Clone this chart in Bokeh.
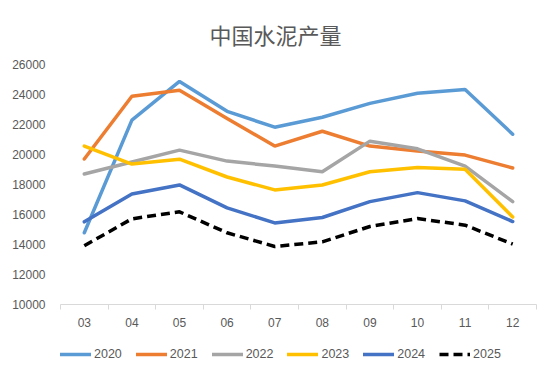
from bokeh.plotting import figure
from bokeh.layouts import column
from bokeh.models import FixedTicker, Legend, LegendItem, Range1d, Title
from bokeh.embed import file_html
from bokeh.resources import INLINE

months = ["03", "04", "05", "06", "07", "08", "09", "10", "11", "12"]
y2020 = [14780, 22290, 24870, 22880, 21820, 22480, 23410, 24080, 24340, 21350]
y2021 = [19700, 23880, 24280, 22400, 20560, 21550, 20560, 20230, 19960, 19100]
y2022 = [18700, 19500, 20290, 19560, 19230, 18850, 20890, 20380, 19230, 16860]
y2023 = [20560, 19360, 19690, 18500, 17640, 17970, 18850, 19140, 19010, 15840]
y2024 = [15510, 17370, 17970, 16440, 15440, 15800, 16860, 17460, 16910, 15530]
y2025 = [13920, 15710, 16180, 14780, 13870, 14180, 15200, 15730, 15290, 14030]
yticks = [10000, 12000, 14000, 16000, 18000, 20000, 22000, 24000, 26000]

series = [
    ("2020", y2020, "#5B9BD5", "solid"),
    ("2021", y2021, "#ED7D31", "solid"),
    ("2022", y2022, "#A5A5A5", "solid"),
    ("2023", y2023, "#FFC000", "solid"),
    ("2024", y2024, "#4472C4", "solid"),
    ("2025", y2025, "#000000", "9 5"),
]

xs = list(range(1, len(months) + 1))

p = figure(width=550, height=340, output_backend="svg", toolbar_location=None,
           x_range=Range1d(0.5, len(months) + 0.5), y_range=Range1d(10000, 26000),
           min_border_left=60, min_border_right=14, min_border_top=63, min_border_bottom=36)
p.outline_line_color = None
p.grid.grid_line_color = None

title = Title(text="中国水泥产量", align="left", offset=149, standoff=30,
              text_font="Noto Sans CJK SC", text_font_size="22px",
              text_font_style="normal", text_color="#595959")
p.add_layout(title, "above")

for name, ys, color, dash in series:
    p.line(xs, ys, line_color=color, line_width=3.5, line_dash=dash,
           line_cap="butt" if dash != "solid" else "round")

xa = p.xaxis[0]
xa.ticker = FixedTicker(ticks=xs, minor_ticks=[x + 0.5 for x in range(0, len(months) + 1)])
xa.major_label_overrides = {x: m for x, m in zip(xs, months)}
xa.major_tick_line_color = None
xa.major_tick_out = 0
xa.major_tick_in = 0
xa.minor_tick_line_color = "#D9D9D9"
xa.minor_tick_in = 0
xa.minor_tick_out = 5
xa.axis_line_color = "#D9D9D9"
xa.axis_line_width = 1
xa.major_label_text_font = "Liberation Sans"
xa.major_label_text_font_size = "12px"
xa.major_label_text_color = "#595959"
xa.major_label_standoff = 8

ya = p.yaxis[0]
ya.ticker = FixedTicker(ticks=yticks)
ya.axis_line_color = None
ya.major_tick_line_color = None
ya.minor_tick_line_color = None
ya.major_label_text_font = "Liberation Sans"
ya.major_label_text_font_size = "12px"
ya.major_label_text_color = "#595959"
ya.major_label_standoff = 9

# legend strip: a second figure whose frame holds only the legend
p2 = figure(width=550, height=30, output_backend="svg", toolbar_location=None,
            x_axis_type=None, y_axis_type=None,
            x_range=Range1d(0.5, len(months) + 0.5), y_range=Range1d(0, 1), min_border=0)
p2.outline_line_color = None
p2.grid.grid_line_color = None
items = []
for name, ys, color, dash in series:
    r = p2.line(xs, ys, line_color=color, line_width=3.5, line_dash=dash,
                line_cap="butt" if dash != "solid" else "round")
    items.append(LegendItem(label=name, renderers=[r]))

legend = Legend(items=items, orientation="horizontal", location=(0, 9),
                glyph_width=31, glyph_height=14, label_standoff=3, spacing=14,
                padding=0, margin=0, border_line_color=None, background_fill_alpha=0,
                label_text_font="Liberation Sans", label_text_font_size="12.5px",
                label_text_color="#595959", label_height=14)
p2.add_layout(legend, "center")

layout = column(p, p2, spacing=0)
open("out.html", "w").write(file_html(layout, INLINE))
